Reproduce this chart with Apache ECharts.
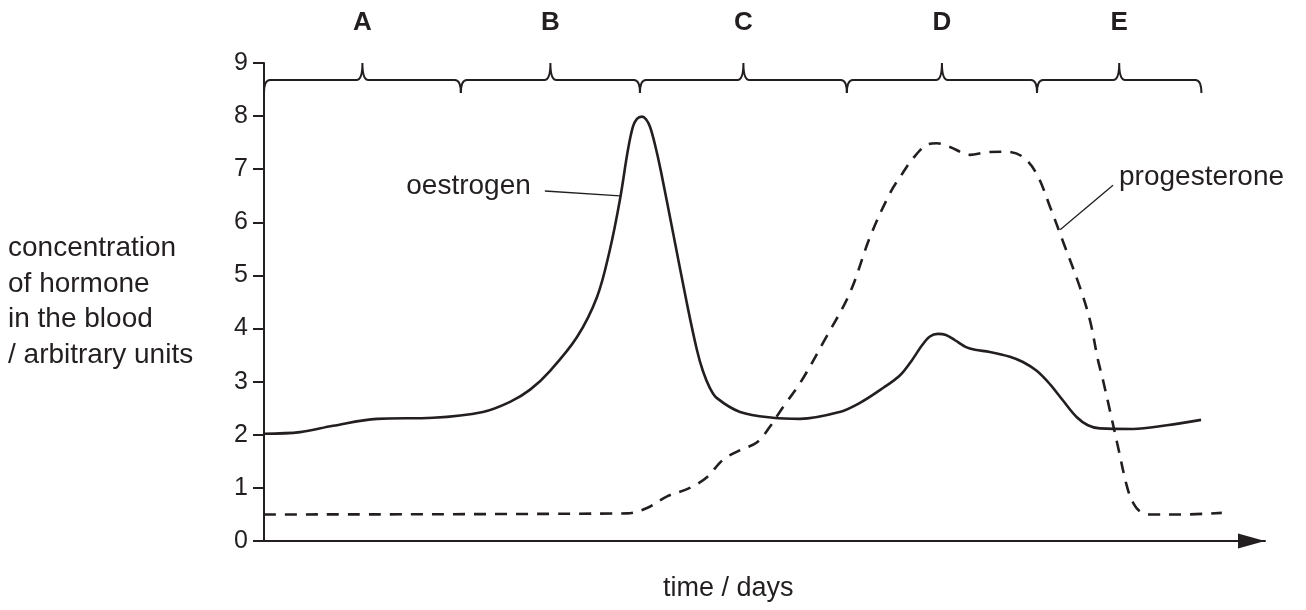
<!DOCTYPE html>
<html>
<head>
<meta charset="utf-8">
<script src="https://cdn.jsdelivr.net/npm/echarts@6/dist/echarts.min.js"></script>
<style>
html,body{margin:0;padding:0;background:#fff;}
#chart{width:1306px;height:610px;}
</style>
</head>
<body>
<div id="chart"></div>
<script>
// ---- data (time in days, concentration in arbitrary units) ----
const oestrogenDays = [0, 1.08, 2.06, 3.38, 5.05, 6.54, 7.35, 7.95, 8.54, 9.35, 9.95, 10.33, 10.63, 10.87, 11.02, 11.14, 11.29, 11.41, 11.53, 11.68, 11.86, 12.22, 12.63, 12.93, 13.11, 13.32, 13.53, 14.22, 15.2, 16.01, 17.2, 17.8, 18.49, 19.0, 19.35, 19.65, 19.89, 20.13, 20.37, 20.64, 20.97, 21.24, 21.68, 22.28, 22.67, 23.09, 23.48, 23.86, 24.28, 24.61, 24.97, 25.96, 26.97, 27.99];
const oestrogenValues = [2.02, 2.05, 2.17, 2.30, 2.32, 2.43, 2.62, 2.85, 3.2, 3.84, 4.6, 5.48, 6.42, 7.36, 7.8, 7.95, 7.99, 7.94, 7.8, 7.46, 6.95, 5.8, 4.48, 3.6, 3.2, 2.88, 2.69, 2.43, 2.32, 2.30, 2.43, 2.6, 2.88, 3.12, 3.4, 3.68, 3.85, 3.9, 3.88, 3.78, 3.65, 3.6, 3.56, 3.47, 3.37, 3.2, 2.95, 2.65, 2.33, 2.18, 2.12, 2.11, 2.18, 2.28];
const progesteroneDays = [0, 10.84, 11.44, 12.04, 12.72, 13.23, 13.71, 14.22, 14.73, 15.11, 15.5, 16.01, 16.76, 17.5, 18.1, 18.7, 19.08, 19.38, 19.8, 20.1, 20.49, 21.09, 21.6, 22.19, 22.67, 23.09, 23.48, 23.86, 24.37, 24.67, 24.91, 25.06, 25.27, 25.51, 25.78, 25.96, 26.16, 26.46, 27.45, 28.61];
const progesteroneValues = [0.5, 0.52, 0.62, 0.84, 1.0, 1.2, 1.53, 1.71, 1.86, 2.15, 2.52, 2.97, 3.8, 4.67, 5.72, 6.55, 6.93, 7.2, 7.46, 7.49, 7.42, 7.27, 7.32, 7.33, 7.23, 6.9, 6.29, 5.65, 4.78, 4.16, 3.41, 3.03, 2.45, 1.77, 1.02, 0.72, 0.56, 0.5, 0.5, 0.53];
const phaseBounds = [0, 5.88, 11.23, 17.41, 23.09, 28];
const phaseLabels = ['A', 'B', 'C', 'D', 'E'];
const yTickLabels = ['0', '1', '2', '3', '4', '5', '6', '7', '8', '9'];

// ---- build ----
const INK = '#231f20';
const FONT = "'Liberation Sans', Arial, Helvetica, sans-serif";
const zip = (xs, ys) => xs.map((x, i) => [x, ys[i]]);
const phases = phaseLabels.map((name, i) => [phaseBounds[i], phaseBounds[i + 1], name]);

const chart = echarts.init(document.getElementById('chart'));
chart.setOption({
  animation: false,
  backgroundColor: '#fff',
  grid: { left: 264, right: 41, top: 63, bottom: 69, containLabel: false },
  xAxis: {
    type: 'value', min: 0, max: 29.9,
    axisLine: {
      show: true, onZero: false,
      lineStyle: { color: INK, width: 2 },
      symbol: ['none', 'triangle'], symbolSize: [15, 27], symbolOffset: [0, -13.5]
    },
    axisTick: { show: false }, axisLabel: { show: false }, splitLine: { show: false }
  },
  yAxis: {
    type: 'value', min: 0, max: 9, interval: 1,
    name: 'concentration\nof hormone\nin the blood\n/ arbitrary units',
    nameLocation: 'middle', nameRotate: 0, nameGap: 256,
    nameTextStyle: { align: 'left', verticalAlign: 'middle', fontSize: 28, lineHeight: 35.5, color: INK, fontFamily: FONT },
    axisLine: { show: true, lineStyle: { color: INK, width: 2 } },
    axisTick: { show: true, length: 11, lineStyle: { color: INK, width: 2 } },
    axisLabel: { margin: 16, fontSize: 25, color: INK, fontFamily: FONT, formatter: v => yTickLabels[v] },
    splitLine: { show: false }
  },
  graphic: [{
    type: 'text', left: 663, top: 575,
    style: { text: 'time / days', font: "27px 'Liberation Sans', Arial, sans-serif", fill: INK }
  }],
  series: [
    {
      name: 'oestrogen', type: 'line', data: zip(oestrogenDays, oestrogenValues),
      smooth: 0.35, showSymbol: false, symbol: 'none',
      lineStyle: { color: INK, width: 2.6 },
      markLine: {
        silent: true, symbol: ['none', 'none'], label: { show: false },
        lineStyle: { color: INK, width: 1.3, type: 'solid' },
        data: [[{ coord: [8.39, 6.59] }, { coord: [10.63, 6.5] }]]
      },
      markPoint: {
        silent: true, symbol: 'circle', symbolSize: 0,
        label: { show: true, position: 'inside', formatter: 'oestrogen', fontSize: 28, color: INK, fontFamily: FONT },
        data: [{ coord: [6.11, 6.68] }]
      }
    },
    {
      name: 'progesterone', type: 'line', data: zip(progesteroneDays, progesteroneValues),
      smooth: 0.35, showSymbol: false, symbol: 'none',
      lineStyle: { color: INK, width: 2.6, type: [12, 9] },
      markLine: {
        silent: true, symbol: ['none', 'none'], label: { show: false },
        lineStyle: { color: INK, width: 1.3, type: 'solid' },
        data: [[{ coord: [25.36, 6.7] }, { coord: [23.78, 5.86] }]]
      },
      markPoint: {
        silent: true, symbol: 'circle', symbolSize: 0,
        label: { show: true, position: 'right', distance: 0, formatter: 'progesterone', fontSize: 28, color: INK, fontFamily: FONT },
        data: [{ coord: [25.54, 6.85] }]
      }
    },
    {
      name: 'phases', type: 'custom', data: phases, encode: { x: [0, 1] }, silent: true, clip: false,
      renderItem: function (params, api) {
        const x1 = api.coord([api.value(0), 9])[0];
        const x2 = api.coord([api.value(1), 9])[0];
        const y9 = api.coord([0, 9])[1];
        const xm = (x1 + x2) / 2;
        const yb = y9 + 17, yh = y9 + 30, yp = y9;
        const d = `M${x1},${yh} Q${x1},${yb} ${x1 + 6},${yb} L${xm - 6},${yb} Q${xm},${yb} ${xm},${yp} ` +
                  `Q${xm},${yb} ${xm + 6},${yb} L${x2 - 6},${yb} Q${x2},${yb} ${x2},${yh}`;
        return {
          type: 'group',
          children: [
            { type: 'path', shape: { pathData: d }, style: { stroke: INK, lineWidth: 2, fill: null } },
            { type: 'text', style: { text: phases[params.dataIndex][2], x: xm, y: y9 - 40, align: 'center', verticalAlign: 'middle',
              font: "bold 26px 'Liberation Sans', Arial, sans-serif", fill: INK } }
          ]
        };
      }
    }
  ]
});
</script>
</body>
</html>
